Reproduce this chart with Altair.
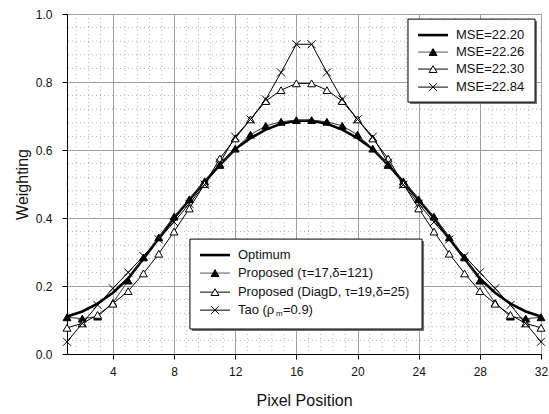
import altair as alt
import pandas as pd

# ---------------- data ----------------
pixel_position = list(range(1, 33))

optimum = [0.110, 0.125, 0.148, 0.180, 0.222, 0.280, 0.340, 0.400,
           0.453, 0.506, 0.556, 0.603, 0.635, 0.660, 0.677, 0.686,
           0.686, 0.677, 0.660, 0.635, 0.603, 0.556, 0.506, 0.453,
           0.400, 0.340, 0.280, 0.222, 0.180, 0.148, 0.125, 0.110]

proposed = [0.108, 0.104, 0.110, 0.150, 0.216, 0.284, 0.343, 0.404,
            0.455, 0.508, 0.556, 0.604, 0.645, 0.671, 0.683, 0.688,
            0.688, 0.683, 0.671, 0.645, 0.604, 0.556, 0.508, 0.455,
            0.404, 0.343, 0.284, 0.216, 0.150, 0.110, 0.104, 0.108]

proposed_diagd = [0.077, 0.090, 0.115, 0.148, 0.185, 0.237, 0.295, 0.360,
                  0.428, 0.500, 0.575, 0.634, 0.690, 0.744, 0.776, 0.796,
                  0.796, 0.776, 0.744, 0.690, 0.634, 0.575, 0.500, 0.428,
                  0.360, 0.295, 0.237, 0.185, 0.148, 0.115, 0.090, 0.077]

tao = [0.036, 0.090, 0.144, 0.193, 0.240, 0.288, 0.337, 0.388,
       0.442, 0.498, 0.563, 0.639, 0.690, 0.749, 0.828, 0.911,
       0.911, 0.828, 0.749, 0.690, 0.639, 0.563, 0.498, 0.442,
       0.388, 0.337, 0.288, 0.240, 0.193, 0.144, 0.090, 0.036]

mse_labels = ["MSE=22.20", "MSE=22.26", "MSE=22.30", "MSE=22.84"]
name_labels = ["Optimum", "Proposed (\u03c4=17,\u03b4=121)",
               "Proposed (DiagD, \u03c4=19,\u03b4=25)", "Tao (\u03c1"]
tao_sub = "m"
tao_rest = "=0.9)"

x_major_ticks = [4, 8, 12, 16, 20, 24, 28, 32]
y_major_ticks = [0.0, 0.2, 0.4, 0.6, 0.8, 1.0]
x_minor_grid = [round(0.8 * k, 2) for k in range(2, 40) if k % 5 != 0]
y_minor_grid = [round(0.04 * k, 2) for k in range(1, 25) if k % 5 != 0]

# ---------------- layout / style ----------------
FONT = "Liberation Sans"
STYLES = ["thick", "filled", "open", "cross"]
CROSS_PATH = "M-1,-1L1,1M-1,1L1,-1"

# legend placement in data units
LEG1_BOX = dict(x=23.30, x2=31.61, y=0.985, y2=0.741)
LEG1_LINE = (23.96, 25.92)
LEG1_TEXT_X = 26.44
LEG1_ROWS = [0.938, 0.888, 0.838, 0.785]

LEG2_BOX = dict(x=9.04, x2=24.22, y=0.338, y2=0.0735)
LEG2_LINE = (9.70, 11.66)
LEG2_TEXT_X = 12.18
LEG2_ROWS = [0.291, 0.238, 0.182, 0.129]

X = alt.X("x:Q",
          scale=alt.Scale(domain=[1, 32], nice=False, zero=False),
          axis=alt.Axis(values=x_major_ticks, title="Pixel Position",
                        labelFontSize=12, titleFontSize=16, tickSize=5,
                        labelPadding=7, titlePadding=15, grid=True,
                        labelFlush=False))
Y = alt.Y("y:Q",
          scale=alt.Scale(domain=[0, 1], nice=False, zero=False),
          axis=alt.Axis(values=y_major_ticks, format=".1f", title="Weighting",
                        labelFontSize=12, titleFontSize=16, tickSize=5,
                        labelPadding=10, titlePadding=5, grid=True))


def line_layer(df, style):
    width = 2.6 if style == "thick" else 1.0
    color = "black" if style in ("thick", "cross", "open") else "#333333"
    return alt.Chart(df).mark_line(color=color, strokeWidth=width).encode(x=X, y=Y)


def marker_layer(df, style):
    if style == "filled":
        m = alt.Chart(df).mark_point(shape="triangle-up", size=62, filled=True,
                                     fill="black", stroke="black",
                                     strokeWidth=1, opacity=1)
    elif style == "open":
        m = alt.Chart(df).mark_point(shape="triangle-up", size=62, filled=True,
                                     fill="white", stroke="black",
                                     strokeWidth=1, opacity=1)
    else:
        m = alt.Chart(df).mark_point(shape=CROSS_PATH, size=64, filled=False,
                                     stroke="black", strokeWidth=1, opacity=1)
    return m.encode(x=X, y=Y)


layers = []

# minor dotted grid
layers.append(alt.Chart(pd.DataFrame({"x": x_minor_grid})).mark_rule(
    color="#b4b4b4", strokeWidth=1, strokeDash=[1, 3]).encode(x=X))
layers.append(alt.Chart(pd.DataFrame({"y": y_minor_grid})).mark_rule(
    color="#b4b4b4", strokeWidth=1, strokeDash=[1, 3]).encode(y=Y))

# data series
for values, style in zip([optimum, proposed, proposed_diagd, tao], STYLES):
    df = pd.DataFrame({"x": pixel_position, "y": values})
    layers.append(line_layer(df, style))
    if style != "thick":
        layers.append(marker_layer(df, style))


def legend_layers(box, line_x, text_x, rows, labels):
    out = []
    bdf = pd.DataFrame([box])
    out.append(alt.Chart(bdf).mark_rect(fill="#707070", xOffset=2, x2Offset=2,
                                        yOffset=2, y2Offset=2)
               .encode(x=X, x2="x2:Q", y=Y, y2="y2:Q"))
    out.append(alt.Chart(bdf).mark_rect(fill="white", stroke="black", strokeWidth=1)
               .encode(x=X, x2="x2:Q", y=Y, y2="y2:Q"))
    for yv, style, lab in zip(rows, STYLES, labels):
        ldf = pd.DataFrame({"x": [line_x[0]], "x2": [line_x[1]], "y": [yv]})
        width = 2.6 if style == "thick" else 1.0
        col = "black" if style != "filled" else "#555555"
        out.append(alt.Chart(ldf).mark_rule(color=col, strokeWidth=width)
                   .encode(x=X, x2="x2:Q", y=Y))
        if style != "thick":
            mdf = pd.DataFrame({"x": [(line_x[0] + line_x[1]) / 2], "y": [yv]})
            out.append(marker_layer(mdf, style))
        tdf = pd.DataFrame({"x": [text_x], "y": [yv], "t": [lab]})
        out.append(alt.Chart(tdf).mark_text(align="left", baseline="middle",
                                            font=FONT, fontSize=13, color="#111111")
                   .encode(x=X, y=Y, text="t:N"))
    return out


layers += legend_layers(LEG1_BOX, LEG1_LINE, LEG1_TEXT_X, LEG1_ROWS, mse_labels)
layers += legend_layers(LEG2_BOX, LEG2_LINE, LEG2_TEXT_X, LEG2_ROWS, name_labels)

# subscript pieces of "Tao (rho_m=0.9)"
sdf = pd.DataFrame({"x": [LEG2_TEXT_X], "y": [LEG2_ROWS[3]], "t": [tao_sub]})
layers.append(alt.Chart(sdf).mark_text(align="left", baseline="middle", font=FONT,
                                       fontSize=8, color="#111111", dx=38, dy=4)
              .encode(x=X, y=Y, text="t:N"))
rdf = pd.DataFrame({"x": [LEG2_TEXT_X], "y": [LEG2_ROWS[3]], "t": [tao_rest]})
layers.append(alt.Chart(rdf).mark_text(align="left", baseline="middle", font=FONT,
                                       fontSize=13, color="#111111", dx=45)
              .encode(x=X, y=Y, text="t:N"))

chart = alt.layer(*layers).properties(
    width=474, height=340,
    autosize=alt.AutoSizeParams(type="none"),
    padding={"left": 67, "top": 14, "right": 8, "bottom": 60},
    background="white",
).configure_view(stroke="#404040", strokeWidth=1).configure_axis(
    labelFont=FONT, titleFont=FONT, labelColor="#111111", titleColor="#111111",
    titleFontWeight="normal", domainColor="black", tickColor="black",
    gridColor="#a0a0a0", gridWidth=1,
)

chart.save("out.html", embed_options={"renderer": "svg", "actions": False})
